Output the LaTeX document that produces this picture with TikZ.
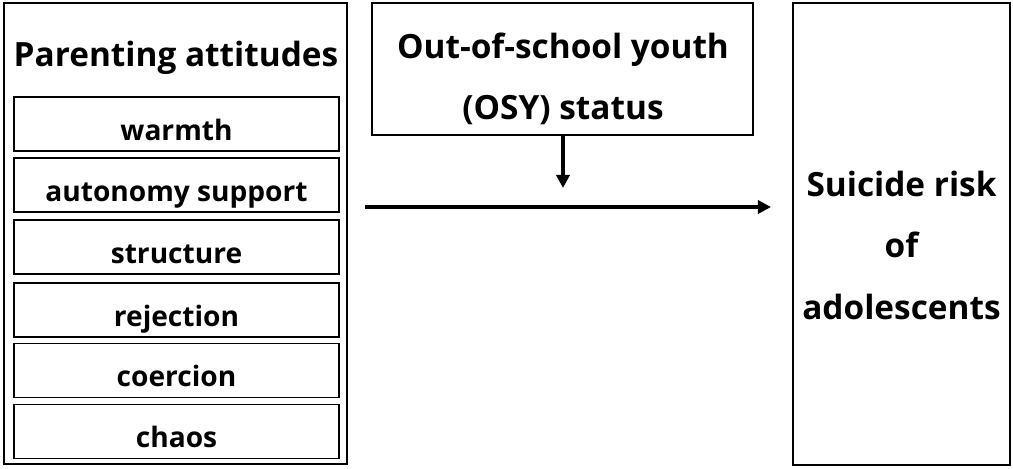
\documentclass[tikz,border=0pt]{standalone}
\usepackage{fontspec}
\setmainfont{Open Sans}
\usetikzlibrary{arrows.meta}
\begin{document}
\begin{tikzpicture}[x=0.02cm,y=-0.02cm,
    frame/.style={draw,line width=1.1pt,inner sep=0pt},
    item/.style={frame,minimum width=6.5cm,minimum height=1.08cm,text height=18.5pt,text depth=0pt,font=\fontsize{16}{19}\selectfont\bfseries},
    big/.style={align=center,font=\fontsize{19}{35}\selectfont\bfseries},
    link/.style={line width=2pt,-{Triangle[length=7.5pt,width=7.5pt]}}]
	  \useasboundingbox (0,0) rectangle (1013,468);
	  \node[frame,minimum width=6.86cm,minimum height=9.22cm] (parent) at (175.5,233.5) {};
	  \node[big] (title) at (176,58) {Parenting attitudes};
	  \node[item] (warmth) at (176.5,124) {warmth};
	  \node[item] (autonomy) at (176.5,185) {autonomy support};
	  \node[item] (structure) at (176.5,247) {structure};
	  \node[item] (rejection) at (176.5,310) {rejection};
	  \node[item] (coercion) at (176.5,370.5) {coercion};
	  \node[item] (chaos) at (176.5,431.5) {chaos};

	  \node[frame,minimum width=7.62cm,minimum height=2.64cm] (osy) at (562.5,69) {};
	  \node[big] (osytext) at (563,79) {Out-of-school youth\\(OSY) status};

	  \node[frame,minimum width=4.34cm,minimum height=9.24cm] (risk) at (901.5,234) {};
	  \node[big] (risktext) at (901.5,245) {Suicide risk\\of\\adolescents};

	  \coordinate (moderate) at (563,188);
	  \coordinate (pathstart) at (365,207);
	  \coordinate (pathend) at (771,207);
	  \draw[link] (osy.south -| moderate) -- (moderate);
	  \draw[link] (pathstart) -- (pathend);
	\end{tikzpicture}
\end{document}
